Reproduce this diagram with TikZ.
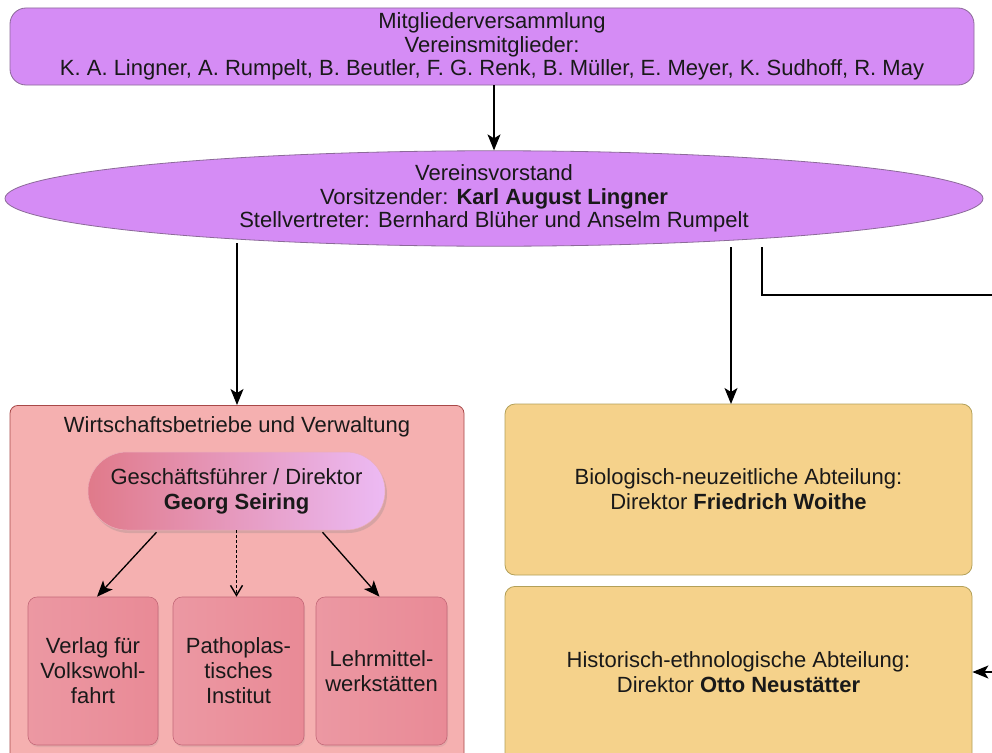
\documentclass[tikz,border=0pt]{standalone}
\usepackage{fontspec}
\setmainfont{Liberation Sans}
\usetikzlibrary{arrows.meta,shadows,shapes.geometric}
\definecolor{violetfill}{HTML}{D58CF5}
\definecolor{violetline}{HTML}{8C6A99}
\definecolor{pinkfill}{HTML}{F5B0B0}
\definecolor{pinkline}{HTML}{A84848}
\definecolor{pillleft}{HTML}{E07A8A}
\definecolor{pillright}{HTML}{ECBAF4}
\definecolor{subfill}{HTML}{E98A96}
\definecolor{subline}{HTML}{C46878}
\definecolor{yelfill}{HTML}{F5D28B}
\definecolor{yelline}{HTML}{B3A058}
\tikzset{
  txt/.style={font=\fontsize{22}{23.5}\selectfont, align=center, text=black!90},
  txtw/.style={font=\fontsize{22}{25}\selectfont, align=center, text=black!90},
  topbox/.style={txt, draw=violetline, fill=violetfill, rounded corners=16pt, line width=0.8pt, inner sep=0pt},
  ellbox/.style={txt, ellipse, draw=violetline, fill=violetfill, line width=0.8pt, inner sep=0pt},
  wbbox/.style={draw=pinkline, fill=pinkfill, rounded corners=8pt, line width=0.8pt, inner sep=0pt},
  pillbox/.style={txtw, rounded corners=39pt, left color=pillleft, right color=pillright, draw=pillleft!60!white, line width=0.5pt, inner sep=0pt, drop shadow={opacity=0.25, shadow xshift=2pt, shadow yshift=-3pt}},
  subbox/.style={txtw, draw=subline, left color=subfill!88!white, right color=subfill, rounded corners=9pt, line width=0.6pt, inner sep=0pt, drop shadow={opacity=0.15, shadow xshift=1pt, shadow yshift=-2pt}},
  yelbox/.style={txtw, draw=yelline, fill=yelfill, rounded corners=10pt, line width=0.8pt, inner sep=0pt},
  arr/.style={line width=1.3pt, -{Stealth[length=16pt,width=13pt,inset=4pt]}},
  plain/.style={line width=1.3pt},
  dotarr/.style={line width=1.5pt, dash pattern=on 2.5pt off 2.5pt, -{Straight Barb[length=10pt,width=12pt,line width=1.4pt]}}
}
\begin{document}
\begin{tikzpicture}[x=1pt,y=-1pt]
\clip (0,0) rectangle (992,752);
\fill[white] (0,0) rectangle (992,752);
% top box
\node[topbox, minimum width=964pt, minimum height=77pt] (mv) at (492,46.5)
  {Mitgliederversammlung\\Vereinsmitglieder:\\K. A. Lingner, A. Rumpelt, B. Beutler, F. G. Renk, B. Müller, E. Meyer, K. Sudhoff, R. May};
% ellipse
\node[ellbox, minimum width=978pt, minimum height=93pt] (vv) at (494,198.5)
  {Vereinsvorstand\\Vorsitzender: \textbf{Karl August Lingner}\\Stellvertreter: Bernhard Blüher und Anselm Rumpelt};
% left container
\node[wbbox, minimum width=454pt, minimum height=360pt, anchor=north] (wb) at (237,405) {};
\node[txt, anchor=north] (wbt) at (237,413) {Wirtschaftsbetriebe und Verwaltung};
\node[pillbox, minimum width=297pt, minimum height=78pt] (gf) at (236.5,491)
  {Geschäftsführer / Direktor\\\textbf{Georg Seiring}};
\node[subbox, minimum width=130pt, minimum height=148pt] (s1) at (93,671) {Verlag für\\Volkswohl-\\fahrt};
\node[subbox, minimum width=131pt, minimum height=148pt] (s2) at (238.5,671) {Pathoplas-\\tisches\\Institut};
\node[subbox, minimum width=131pt, minimum height=148pt] (s3) at (381.5,671) {Lehrmittel-\\werkstätten};
% right boxes
\node[yelbox, minimum width=467pt, minimum height=171pt] (bio) at (738.5,489.5)
  {Biologisch-neuzeitliche Abteilung:\\Direktor \textbf{Friedrich Woithe}};
\node[yelbox, minimum width=467pt, minimum height=180pt, anchor=north] (hist) at (738.5,586) {};
\node[txtw] (histt) at (738.5,672) {Historisch-ethnologische Abteilung:\\Direktor \textbf{Otto Neustätter}};
% coordinates
\coordinate (mid) at (731,404);
\coordinate (outR) at (993,295);
\coordinate (inR) at (993,672);
% connectors
\draw[arr] (mv.south -| vv.north) -- (vv.north);
\draw[arr] (237,243) -- (wb.north);
\draw[arr] (731,247) -- (mid);
\draw[plain] (762,247) |- (outR);
\draw[arr] (inR) -- (hist.east |- inR);
\draw[arr] ([xshift=-80pt,yshift=-2pt]gf.south) -- ([xshift=4pt]s1.north);
\draw[dotarr] (gf.south) -- (s2.north -| gf.south);
\draw[arr] ([xshift=86pt,yshift=-2pt]gf.south) -- ([xshift=-2pt]s3.north);
\end{tikzpicture}
\end{document}
